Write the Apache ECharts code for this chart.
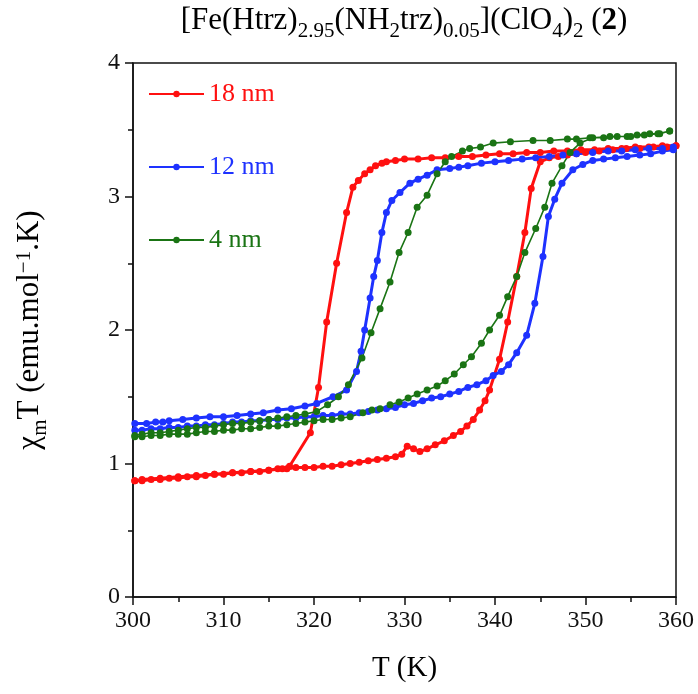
<!DOCTYPE html>
<html>
<head>
<meta charset="utf-8">
<script src="https://cdn.jsdelivr.net/npm/echarts@6/dist/echarts.min.js"></script>
<style>html,body{margin:0;padding:0;background:#fff;}#c{width:698px;height:694px;}</style>
</head>
<body>
<div id="c"></div>
<script>
// ---- data (T in K, chi_m T in emu.mol^-1.K) ----
const xTicks = [300, 310, 320, 330, 340, 350, 360];
const yTicks = [0, 1, 2, 3, 4];
const seriesNames = ['18 nm', '12 nm', '4 nm'];

const redHeating = [
  [300.2,0.87],[301,0.87],[302,0.88],[303,0.88],[304,0.89],[305,0.89],[306,0.90],[307,0.90],[308,0.91],[309,0.92],
  [310,0.92],[311,0.93],[312,0.93],[313,0.94],[314,0.94],[315,0.95],[316,0.96],[317,0.96],[318,0.97],[319,0.97],
  [320,0.97],[321,0.98],[322,0.98],[323,0.99],[324,1.00],[325,1.01],[326,1.02],[327,1.03],[328,1.04],[329,1.05],
  [329.7,1.07],[330.3,1.13],[331,1.11],[331.7,1.09],[332.5,1.11],[333.4,1.14],[334.4,1.17],[335.4,1.21],[336.2,1.24],
  [336.9,1.28],[337.6,1.33],[338.3,1.40],[338.9,1.47],[339.4,1.55],[340.5,1.78],[341.4,2.06],[342.4,2.40],[343.3,2.73],
  [344.0,3.06],[345.0,3.26],[346,3.29],[347,3.30],[348,3.31],[349,3.32],[350,3.33],[351.5,3.34],[353,3.35],
  [354.5,3.36],[356,3.36],[357.5,3.37],[359,3.37],[360,3.38]
];
const redCooling = [
  [360,3.38],[358.5,3.38],[357,3.37],[355.5,3.37],[354,3.36],[352.5,3.36],[351,3.35],[349.5,3.35],[348,3.34],
  [346.5,3.34],[345,3.33],[343.5,3.33],[342,3.32],[340.5,3.32],[339,3.31],[337.5,3.30],[336,3.30],[334.5,3.29],
  [333,3.29],[331.5,3.28],[330,3.28],[329,3.27],[328,3.26],[327.5,3.25],[326.8,3.23],[326.2,3.20],[325.6,3.17],
  [324.9,3.12],[324.3,3.07],[323.6,2.88],[322.5,2.50],[321.4,2.06],[320.5,1.57],[319.6,1.23],[317.3,0.98],
  [316.5,0.96],[315,0.95],[313,0.94],[311,0.93],[309,0.92],[307,0.91],[305,0.90],[303,0.89],[301,0.88],[300.2,0.87]
];
const blueHeating = [
  [300.2,1.25],[301,1.25],[302,1.26],[303,1.26],[304,1.27],[305,1.27],[306,1.28],[307,1.28],[308,1.29],[309,1.29],
  [310,1.30],[311,1.31],[312,1.31],[313,1.32],[314,1.32],[315,1.33],[316,1.33],[317,1.34],[318,1.34],[319,1.35],
  [320,1.35],[321,1.36],[322,1.36],[323,1.37],[324,1.37],[325,1.38],[326,1.39],[327,1.40],[328,1.41],[329,1.42],
  [330,1.44],[331,1.45],[332,1.47],[333,1.49],[334,1.50],[335,1.52],[336,1.54],[337,1.57],[338,1.59],[339,1.62],
  [339.8,1.66],[340.7,1.69],[341.5,1.74],[342.4,1.83],[343.5,1.96],[344.4,2.20],[345.3,2.55],[345.9,2.85],
  [346.6,2.98],[347.4,3.10],[348.6,3.20],[349.7,3.24],[350.8,3.27],[352,3.28],[353.3,3.29],[354.6,3.30],
  [356,3.31],[357.2,3.32],[358.5,3.34],[359.7,3.35]
];
const blueCooling = [
  [359.7,3.37],[358.5,3.36],[357,3.36],[355.5,3.35],[354,3.34],[352.5,3.34],[350.8,3.33],[349,3.32],[347.5,3.31],
  [346,3.30],[344.5,3.29],[343,3.28],[341.5,3.27],[340,3.26],[338.5,3.25],[337,3.23],[336,3.22],[335,3.21],
  [333.6,3.20],[332.5,3.16],[331.5,3.13],[330.6,3.10],[329.5,3.03],[328.6,2.97],[328,2.88],[327.5,2.73],[327,2.52],
  [326.6,2.40],[326.2,2.24],[325.6,2.00],[325.2,1.84],[324.7,1.69],[323.6,1.55],[322.1,1.50],[320.3,1.45],
  [319,1.43],[317.5,1.41],[316,1.40],[314.4,1.38],[313,1.37],[311.5,1.36],[310,1.35],[308.5,1.35],[307,1.34],
  [305.5,1.33],[304,1.32],[303.3,1.31],[302.5,1.31],[301.5,1.30],[300.2,1.30]
];
const greenHeating = [
  [300.2,1.20],[301,1.20],[302,1.21],[303,1.21],[304,1.22],[305,1.22],[306,1.22],[307,1.23],[308,1.24],[309,1.24],
  [310,1.25],[311,1.25],[312,1.26],[313,1.26],[314,1.27],[315,1.28],[316,1.28],[317,1.29],[318,1.30],[319,1.31],
  [320,1.32],[321,1.33],[322,1.33],[323,1.34],[324,1.35],[325.4,1.38],[326.4,1.40],[327.3,1.41],[328.4,1.44],
  [329.4,1.46],[330.4,1.49],[331.4,1.52],[332.5,1.55],[333.6,1.58],[334.5,1.62],[335.5,1.67],[336.5,1.74],
  [337.4,1.80],[338.5,1.90],[339.4,2.00],[340.5,2.11],[341.4,2.25],[342.4,2.40],[343.3,2.58],[344.5,2.76],
  [345.5,2.92],[346.3,3.10],[347.4,3.23],[348.3,3.33],[349.4,3.40],[350.8,3.44],[352.7,3.45],[354.6,3.45],
  [355.7,3.46],[357.1,3.47],[358.2,3.47],[359.3,3.49]
];
const greenCooling = [
  [359.3,3.49],[358,3.47],[356.5,3.46],[355,3.45],[353.5,3.45],[352,3.44],[350.5,3.44],[349,3.43],[348,3.43],
  [346.1,3.42],[344.2,3.42],[341.7,3.41],[339.8,3.40],[338.4,3.37],[337.2,3.36],[336.4,3.34],[335.2,3.30],
  [334.5,3.26],[333.6,3.17],[332.5,3.01],[331.4,2.92],[330.4,2.73],[329.4,2.58],[328.4,2.36],[327.3,2.16],
  [326.3,1.98],[325.3,1.79],[323.8,1.59],[322.7,1.50],[321.5,1.44],[320.3,1.39],[319,1.37],[318,1.36],[317,1.35],
  [316,1.34],[315,1.33],[314,1.32],[313,1.31],[312,1.30],[311,1.30],[310,1.29],[309,1.28],[308,1.27],[307,1.27],
  [306,1.26],[305,1.25],[304,1.24],[303,1.23],[302,1.23],[301,1.22],[300.2,1.21]
];

const colors = ['#ff1010', '#1e32ff', '#1a7414'];
const SERIF = '"Liberation Serif", "DejaVu Serif", serif';

const chart = echarts.init(document.getElementById('c'), null, {renderer: 'canvas'});

function mkSeries(name, data, color, lw) {
  return {
    name: name, type: 'line', data: data,
    symbol: 'circle', symbolSize: 7, showSymbol: true,
    lineStyle: {color: color, width: lw},
    itemStyle: {color: color},
    animation: false, z: 3
  };
}

const option = {
  animation: false,
  backgroundColor: '#fff',
  title: {
    left: 404, top: 5, textAlign: 'center', padding: 0,
    text: '{n|[Fe(Htrz)}{s|2.95}{n|(NH}{s|2}{n|trz)}{s|0.05}{n|](ClO}{s|4}{n|)}{s|2}{n| (}{b|2}{n|)}',
    textStyle: {
      fontWeight: 'normal',
      rich: {
        n: {fontFamily: SERIF, fontSize: 31, fontWeight: 'normal', color: '#000', lineHeight: 31, verticalAlign: 'top'},
        s: {fontFamily: SERIF, fontSize: 21, fontWeight: 'normal', color: '#000', lineHeight: 37, verticalAlign: 'bottom'},
        b: {fontFamily: SERIF, fontSize: 31, fontWeight: 'bold', color: '#000', lineHeight: 31, verticalAlign: 'top'}
      }
    }
  },
  legend: {
    orient: 'vertical', left: 148, top: 81, itemGap: 47, padding: 0,
    itemWidth: 55, itemHeight: 8,
    data: seriesNames.map((n, i) => ({name: n, textStyle: {color: colors[i]}})),
    textStyle: {fontFamily: SERIF, fontSize: 26}
  },
  grid: {left: 133, right: 22, top: 63, bottom: 97, show: true, borderColor: '#111', borderWidth: 1.5, outerBoundsMode: 'none'},
  xAxis: {
    type: 'value', min: xTicks[0], max: xTicks[xTicks.length - 1], interval: 10,
    name: 'T (K)', nameLocation: 'middle', nameGap: 57,
    nameTextStyle: {fontFamily: SERIF, fontSize: 29, color: '#000'},
    axisLine: {onZero: false, lineStyle: {color: '#111', width: 1.5}},
    axisTick: {inside: false, length: 8, lineStyle: {color: '#111', width: 1.5}},
    minorTick: {show: true, splitNumber: 2, length: 5, lineStyle: {color: '#111', width: 1.5}},
    axisLabel: {fontFamily: SERIF, fontSize: 24, color: '#111', margin: 12},
    splitLine: {show: false}
  },
  yAxis: {
    type: 'value', min: yTicks[0], max: yTicks[yTicks.length - 1], interval: 1,
    name: '{n|χ}{s|m}{n|T (emu.mol}{p|−1}{n|.K)}', nameLocation: 'middle', nameGap: 82, nameRotate: 90,
    nameTextStyle: {
      rich: {
        n: {fontFamily: SERIF, fontSize: 31, color: '#000', lineHeight: 31, verticalAlign: 'top'},
        s: {fontFamily: SERIF, fontSize: 21, color: '#000', lineHeight: 37, verticalAlign: 'bottom'},
        p: {fontFamily: SERIF, fontSize: 21, color: '#000', lineHeight: 21, verticalAlign: 'top'}
      }
    },
    axisLine: {onZero: false, lineStyle: {color: '#111', width: 1.5}},
    axisTick: {inside: false, length: 8, lineStyle: {color: '#111', width: 1.5}},
    minorTick: {show: true, splitNumber: 2, length: 5, lineStyle: {color: '#111', width: 1.5}},
    axisLabel: {fontFamily: SERIF, fontSize: 24, color: '#111', margin: 13},
    splitLine: {show: false}
  },
  series: [
    mkSeries(seriesNames[0], redHeating.concat(redCooling), colors[0], 3),
    mkSeries(seriesNames[1], blueHeating.concat(blueCooling), colors[1], 3),
    mkSeries(seriesNames[2], greenHeating.concat(greenCooling), colors[2], 1.6)
  ]
};
chart.setOption(option);
</script>
</body>
</html>
